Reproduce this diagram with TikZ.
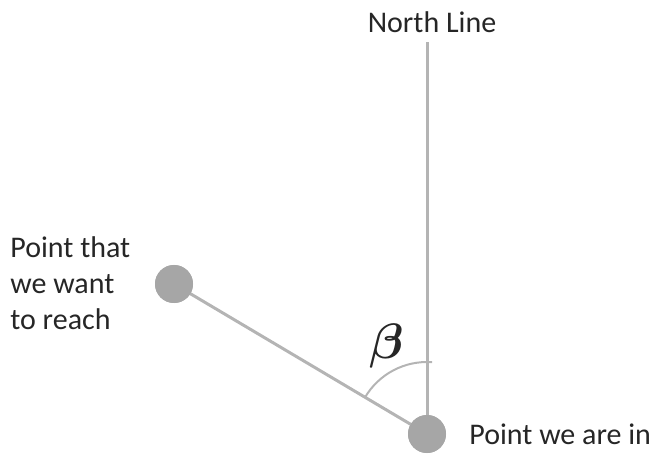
\documentclass[tikz,border=0pt]{standalone}
\usepackage{amsmath}
\usepackage{fontspec}
\setmainfont{Carlito}
\usepackage{tikz}
\usetikzlibrary{positioning, calc}
\definecolor{lineGray}{HTML}{B4B4B4}
\definecolor{dotGray}{HTML}{A6A6A6}
\tikzset{
  spot/.style  ={circle, fill=dotGray, draw=none, minimum size=19pt, inner sep=0pt},
  ray/.style   ={draw=lineGray, line width=1.5pt},
  lbl/.style   ={font=\fontsize{15}{18}\selectfont, text=black!85, inner sep=0pt}
}
\begin{document}
\begin{tikzpicture}[x=0.5pt, y=-0.5pt,
  angarc/.style={draw=lineGray, line width=1pt}
]
\useasboundingbox (0,0) rectangle (653,454);

%  Points 
\node[spot] (here) at (427,434) {};
\node[spot] (goal) at (174,284) {};
\coordinate (north) at (427,42);

%  Lines 
\draw[ray] (here.center) -- (north);
\draw[ray] (here.center) -- (goal.center);
\node[spot] at (here) {};
\node[spot] at (goal) {};

%  Angle 
\draw[angarc] (here.center) ++(149.34:36pt) arc[start angle=149.34, end angle=86, radius=36pt];
\node[lbl, font=\fontsize{27}{28}\selectfont] (beta) at (387,346) {$\boldsymbol{\beta}$};

%  Labels 
\node[lbl] (northlbl) at (432,22) {North Line};
\node[lbl, align=left, anchor=west] (goallbl) at (10,283)
      {Point that\\we want\\to reach};
\node[lbl, anchor=west] (herelbl) at (469,434) {Point we are in};
\end{tikzpicture}
\end{document}
